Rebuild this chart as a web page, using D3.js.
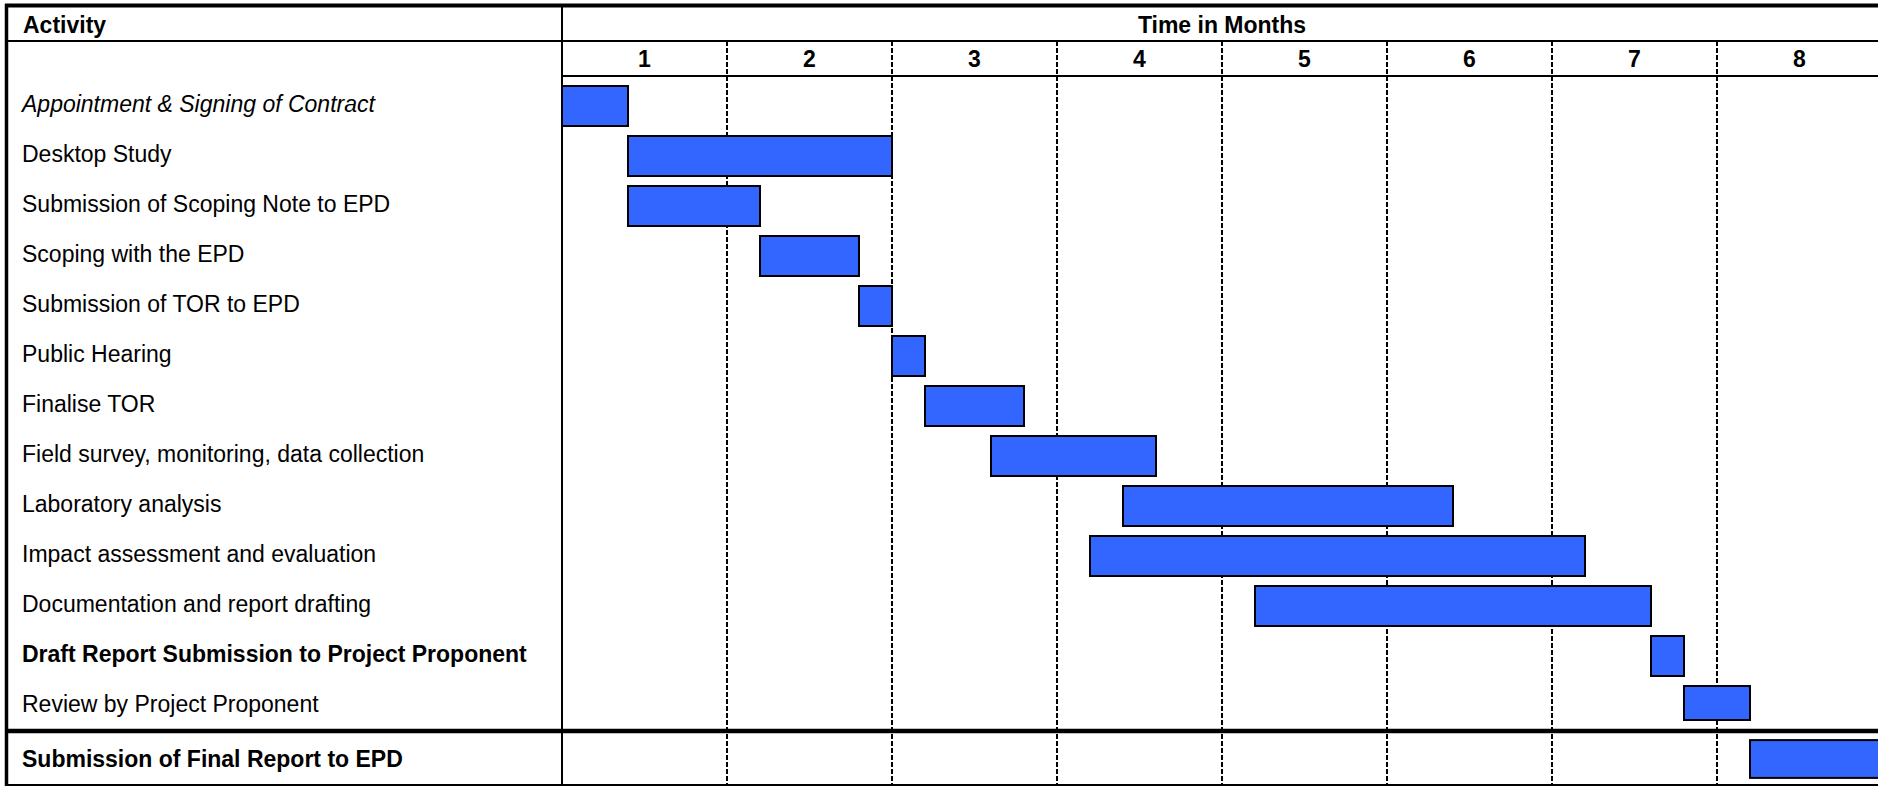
<!DOCTYPE html>
<html>
<head>
<meta charset="utf-8">
<script src="https://cdn.jsdelivr.net/npm/d3@7"></script>
<style>
  html, body { margin: 0; padding: 0; background: #fff; }
  svg { display: block; }
  text { font-family: "Liberation Sans", Arial, sans-serif; fill: #000; }
</style>
</head>
<body>
<svg id="chart" width="1878" height="786"></svg>
<script>
// ---- data ----
const activities = [
  "Appointment & Signing of Contract",
  "Desktop Study",
  "Submission of Scoping Note to EPD",
  "Scoping with the EPD",
  "Submission of TOR to EPD",
  "Public Hearing",
  "Finalise TOR",
  "Field survey, monitoring, data collection",
  "Laboratory analysis",
  "Impact assessment and evaluation",
  "Documentation and report drafting",
  "Draft Report Submission to Project Proponent",
  "Review by Project Proponent",
  "Submission of Final Report to EPD"
];
const startMonth = [0, 0.4, 0.4, 1.2, 1.8, 2.0, 2.2, 2.6, 3.4, 3.2, 4.2, 6.6, 6.8, 7.2];
const endMonth   = [0.4, 2.0, 1.2, 1.8, 2.0, 2.2, 2.8, 3.6, 5.4, 6.2, 6.6, 6.8, 7.2, 8.0];
const monthLabels = ["1", "2", "3", "4", "5", "6", "7", "8"];
const headerActivity = "Activity";
const headerTime = "Time in Months";

// ---- layout ----
const W = 1878, H = 786;
const gridLeft = 562;
const FS = 23;
const svg = d3.select("#chart");

const x = d3.scaleLinear().domain([0, monthLabels.length]).range([gridLeft, gridLeft + 165 * monthLabels.length]);
const mainRows = activities.slice(0, activities.length - 1);
const finalRow = activities.slice(activities.length - 1);
const yMain = d3.scaleBand().domain(mainRows).range([81, 731]).paddingInner(0.2).paddingOuter(0.1);
const yFinal = d3.scaleBand().domain(finalRow).range([733, 785]).paddingInner(0.2).paddingOuter(0.15);
const yBand = name => mainRows.includes(name) ? yMain(name) : yFinal(name);
const bw = name => mainRows.includes(name) ? yMain.bandwidth() : yFinal.bandwidth();

const italicSet = new Set([activities[0]]);
const boldSet = new Set([activities[11], activities[13]]);

const data = activities.map((a, i) => ({ name: a, s: startMonth[i], e: endMonth[i] }));

// dashed month dividers
svg.append("g").selectAll("line")
  .data(d3.range(1, monthLabels.length))
  .join("line")
  .attr("x1", d => x(d)).attr("x2", d => x(d))
  .attr("y1", 41).attr("y2", H)
  .attr("stroke", "#000").attr("stroke-width", 2)
  .attr("stroke-dasharray", "5,2");

// bars
svg.append("g").selectAll("rect")
  .data(data)
  .join("rect")
  .attr("x", d => x(d.s))
  .attr("y", d => yBand(d.name))
  .attr("width", d => x(d.e) - x(d.s))
  .attr("height", d => Math.min(bw(d.name), 720 - yBand(d.name) > 0 && mainRows.includes(d.name) ? 720 - yBand(d.name) : bw(d.name)))
  .attr("fill", "#3366FF")
  .attr("stroke", "#000")
  .attr("stroke-width", 2);

// table lines
const g = svg.append("g").attr("stroke", "#000");
g.append("line").attr("x1", 5).attr("x2", W).attr("y1", 5.5).attr("y2", 5.5).attr("stroke-width", 4);
g.append("line").attr("x1", 6.5).attr("x2", 6.5).attr("y1", 4).attr("y2", H).attr("stroke-width", 3.5);
g.append("line").attr("x1", 5).attr("x2", W).attr("y1", 41).attr("y2", 41).attr("stroke-width", 2);
g.append("line").attr("x1", gridLeft).attr("x2", gridLeft).attr("y1", 4).attr("y2", H).attr("stroke-width", 2);
g.append("line").attr("x1", gridLeft).attr("x2", W).attr("y1", 76).attr("y2", 76).attr("stroke-width", 2);
g.append("line").attr("x1", 5).attr("x2", W).attr("y1", 731).attr("y2", 731).attr("stroke-width", 4.5);
g.append("line").attr("x1", 5).attr("x2", W).attr("y1", 785).attr("y2", 785).attr("stroke-width", 2);

// header texts
svg.append("text").attr("x", 23).attr("y", 33)
  .attr("font-size", FS).attr("font-weight", "bold").text(headerActivity);
svg.append("text").attr("x", (x.range()[0] + x.range()[1]) / 2).attr("y", 33)
  .attr("text-anchor", "middle").attr("font-size", FS).attr("font-weight", "bold").text(headerTime);

// month labels
svg.append("g").selectAll("text")
  .data(monthLabels)
  .join("text")
  .attr("x", (d, i) => x(i + 0.5))
  .attr("y", 67)
  .attr("text-anchor", "middle")
  .attr("font-size", FS).attr("font-weight", "bold")
  .text(d => d);

// activity labels
svg.append("g").selectAll("text")
  .data(data)
  .join("text")
  .attr("x", 22)
  .attr("y", d => mainRows.includes(d.name) ? yMain(d.name) + yMain.bandwidth() / 2 + 6 : 767)
  .attr("font-size", FS)
  .attr("font-style", d => italicSet.has(d.name) ? "italic" : "normal")
  .attr("font-weight", d => boldSet.has(d.name) ? "bold" : "normal")
  .text(d => d.name);
</script>
</body>
</html>
